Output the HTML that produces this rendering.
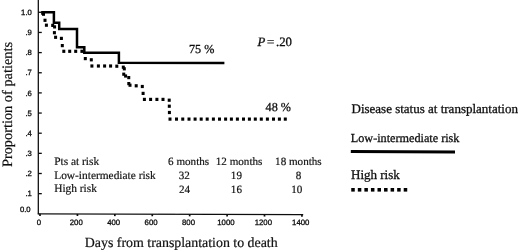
<!DOCTYPE html>
<html><head><meta charset="utf-8"><style>
html,body{margin:0;padding:0;background:#fff;}
body{width:520px;height:251px;overflow:hidden;}
svg{display:block;will-change:transform;}
text{text-rendering:geometricPrecision;}
.sans{font-family:"Liberation Sans",sans-serif;}
.serif{font-family:"Liberation Serif",serif;}
</style></head><body>
<svg width="520" height="251" viewBox="0 0 520 251">
<defs><filter id="b" filterUnits="userSpaceOnUse" x="0" y="0" width="520" height="251"><feGaussianBlur stdDeviation="0.4"/></filter></defs>
<rect width="520" height="251" fill="#fff"/>
<g filter="url(#b)">
<g stroke="#111" stroke-width="1.3" fill="none">
<line x1="38.3" y1="0" x2="38.3" y2="214.3"/>
<line x1="37.8" y1="213.8" x2="303.2" y2="214.6"/>
<line x1="38.3" y1="193.65" x2="41.8" y2="193.65"/><line x1="38.3" y1="173.50" x2="41.8" y2="173.50"/><line x1="38.3" y1="153.35" x2="41.8" y2="153.35"/><line x1="38.3" y1="133.20" x2="41.8" y2="133.20"/><line x1="38.3" y1="113.05" x2="41.8" y2="113.05"/><line x1="38.3" y1="92.90" x2="41.8" y2="92.90"/><line x1="38.3" y1="72.75" x2="41.8" y2="72.75"/><line x1="38.3" y1="52.60" x2="41.8" y2="52.60"/><line x1="38.3" y1="32.45" x2="41.8" y2="32.45"/><line x1="38.3" y1="12.30" x2="41.8" y2="12.30"/>
<line x1="40.00" y1="213.81" x2="40.00" y2="215.91" stroke-width="1.7"/><line x1="77.42" y1="213.92" x2="77.42" y2="216.02" stroke-width="1.7"/><line x1="114.84" y1="214.03" x2="114.84" y2="216.13" stroke-width="1.7"/><line x1="152.26" y1="214.14" x2="152.26" y2="216.24" stroke-width="1.7"/><line x1="189.68" y1="214.26" x2="189.68" y2="216.36" stroke-width="1.7"/><line x1="227.10" y1="214.37" x2="227.10" y2="216.47" stroke-width="1.7"/><line x1="264.52" y1="214.48" x2="264.52" y2="216.58" stroke-width="1.7"/><line x1="301.94" y1="214.60" x2="301.94" y2="216.70" stroke-width="1.7"/>
</g>
<g class="sans" font-size="7.7" fill="#111" stroke="#111" stroke-width="0.32" text-anchor="end"><text x="30.6" y="211.80">0.0</text><text x="31.8" y="196.25">.1</text><text x="31.8" y="176.10">.2</text><text x="31.8" y="155.95">.3</text><text x="31.8" y="135.80">.4</text><text x="31.8" y="115.65">.5</text><text x="31.8" y="95.50">.6</text><text x="31.8" y="75.35">.7</text><text x="31.8" y="55.20">.8</text><text x="31.8" y="35.05">.9</text><text x="31.8" y="14.90">1.0</text></g>
<g class="sans" font-size="7.8" fill="#111" stroke="#111" stroke-width="0.32" text-anchor="middle"><text x="38.80" y="225.2">0</text><text x="76.22" y="225.2">200</text><text x="113.64" y="225.2">400</text><text x="151.06" y="225.2">600</text><text x="188.48" y="225.2">800</text><text x="225.90" y="225.2">1000</text><text x="263.32" y="225.2">1200</text><text x="300.74" y="225.2">1400</text></g>
<path d="M42.4,14.8 V12.2 H53.9 V22.8 H59.2 V29.0 H77.0 V47.3 H84.3 V52.7 H118.9 V62.7 L224.4,63.1" fill="none" stroke="#000" stroke-width="2.5" stroke-linejoin="miter"/>
<g fill="#000"><rect x="42.00" y="12.60" width="3.0" height="3.2"/><rect x="43.50" y="18.70" width="3.0" height="3.2"/><rect x="44.90" y="23.60" width="3.0" height="3.2"/><rect x="51.20" y="23.80" width="3.0" height="3.2"/><rect x="53.10" y="25.30" width="3.0" height="3.2"/><rect x="52.90" y="31.10" width="3.0" height="3.2"/><rect x="54.10" y="35.70" width="3.0" height="3.2"/><rect x="59.90" y="36.80" width="3.0" height="3.2"/><rect x="60.80" y="44.00" width="3.0" height="3.2"/><rect x="62.30" y="49.70" width="3.0" height="3.2"/><rect x="68.20" y="49.70" width="3.0" height="3.2"/><rect x="74.20" y="49.70" width="3.0" height="3.2"/><rect x="80.40" y="49.70" width="3.0" height="3.2"/><rect x="83.80" y="57.00" width="3.0" height="3.2"/><rect x="89.80" y="58.20" width="3.0" height="3.2"/><rect x="90.40" y="64.40" width="3.0" height="3.2"/><rect x="96.90" y="64.40" width="3.0" height="3.2"/><rect x="103.10" y="64.40" width="3.0" height="3.2"/><rect x="109.10" y="64.40" width="3.0" height="3.2"/><rect x="115.30" y="64.60" width="3.0" height="3.2"/><rect x="121.80" y="65.60" width="3.0" height="3.2"/><rect x="122.80" y="67.20" width="3.0" height="3.2"/><rect x="122.25" y="72.60" width="3.0" height="3.2"/><rect x="124.10" y="74.40" width="3.0" height="3.2"/><rect x="127.25" y="76.00" width="3.0" height="3.2"/><rect x="127.30" y="82.00" width="3.0" height="3.2"/><rect x="128.50" y="83.60" width="3.0" height="3.2"/><rect x="134.70" y="84.20" width="3.0" height="3.2"/><rect x="140.80" y="84.90" width="3.0" height="3.2"/><rect x="141.60" y="91.80" width="3.0" height="3.2"/><rect x="142.90" y="97.80" width="3.0" height="3.2"/><rect x="149.10" y="97.80" width="3.0" height="3.2"/><rect x="155.40" y="97.80" width="3.0" height="3.2"/><rect x="161.50" y="97.80" width="3.0" height="3.2"/><rect x="167.70" y="98.60" width="3.0" height="3.2"/><rect x="167.80" y="104.60" width="3.0" height="3.2"/><rect x="167.90" y="110.90" width="3.0" height="3.2"/><rect x="168.50" y="117.50" width="3.0" height="3.2"/><rect x="175.00" y="117.50" width="3.0" height="3.2"/><rect x="181.25" y="117.50" width="3.0" height="3.2"/><rect x="187.50" y="117.50" width="3.0" height="3.2"/><rect x="193.60" y="117.50" width="3.0" height="3.2"/><rect x="199.70" y="117.50" width="3.0" height="3.2"/><rect x="205.70" y="117.50" width="3.0" height="3.2"/><rect x="211.90" y="117.50" width="3.0" height="3.2"/><rect x="218.00" y="117.50" width="3.0" height="3.2"/><rect x="224.10" y="117.50" width="3.0" height="3.2"/><rect x="229.90" y="117.50" width="3.0" height="3.2"/><rect x="235.90" y="117.50" width="3.0" height="3.2"/><rect x="242.00" y="117.50" width="3.0" height="3.2"/><rect x="247.90" y="117.50" width="3.0" height="3.2"/><rect x="253.80" y="117.50" width="3.0" height="3.2"/><rect x="259.80" y="117.50" width="3.0" height="3.2"/><rect x="265.90" y="117.50" width="3.0" height="3.2"/><rect x="272.00" y="117.50" width="3.0" height="3.2"/><rect x="277.90" y="117.50" width="3.0" height="3.2"/><rect x="283.80" y="117.50" width="3.0" height="3.2"/></g>
<g class="serif" fill="#111" stroke="#111" stroke-width="0.3">
<text x="189" y="53" font-size="12.2">75 %</text>
<text x="265.6" y="110.5" font-size="12.2">48 %</text>
<text x="257.5" y="46" font-size="12.8"><tspan font-style="italic">P</tspan><tspan dx="1.6">=</tspan><tspan dx="1.8">.20</tspan></text>
<text x="351.5" y="112.8" font-size="13">Disease status at transplantation</text>
<text x="350.8" y="141.6" font-size="12.2">Low-intermediate risk</text>
<text x="351" y="178.7" font-size="13">High risk</text>
<g stroke-width="0.18">
<text x="54.2" y="164.6" font-size="11.4">Pts at risk</text>
<text x="54.2" y="178.5" font-size="11.4">Low-intermediate risk</text>
<text x="54.2" y="191.5" font-size="11.4">High risk</text>
<text x="168.1" y="165.1" font-size="11.1">6 months</text>
<text x="215.8" y="165.1" font-size="11.1">12 months</text>
<text x="275.1" y="165.1" font-size="11.1">18 months</text>
<g text-anchor="middle" font-size="11.1">
<text x="184.3" y="178.8">32</text><text x="236.4" y="178.8">19</text><text x="298.6" y="178.8">8</text>
<text x="184.6" y="192.8">24</text><text x="236.4" y="192.8">16</text><text x="296.7" y="192.8">10</text>
</g>
</g>
<text x="84.8" y="246.5" font-size="13.9" stroke-width="0.2">Days from transplantation to death</text>
<text transform="translate(12.3,167.1) rotate(-90)" font-size="14.35" stroke-width="0.2">Proportion of patients</text>
</g>
<line x1="350.8" y1="151.5" x2="455" y2="152.1" stroke="#000" stroke-width="3"/>
<g fill="#000"><rect x="351.25" y="188" width="3.5" height="3.6"/><rect x="357.81" y="188" width="3.5" height="3.6"/><rect x="364.37" y="188" width="3.5" height="3.6"/><rect x="370.93" y="188" width="3.5" height="3.6"/><rect x="377.49" y="188" width="3.5" height="3.6"/><rect x="384.05" y="188" width="3.5" height="3.6"/><rect x="390.61" y="188" width="3.5" height="3.6"/><rect x="397.17" y="188" width="3.5" height="3.6"/><rect x="403.73" y="188" width="3.5" height="3.6"/></g>
</g>
</svg>
</body></html>
